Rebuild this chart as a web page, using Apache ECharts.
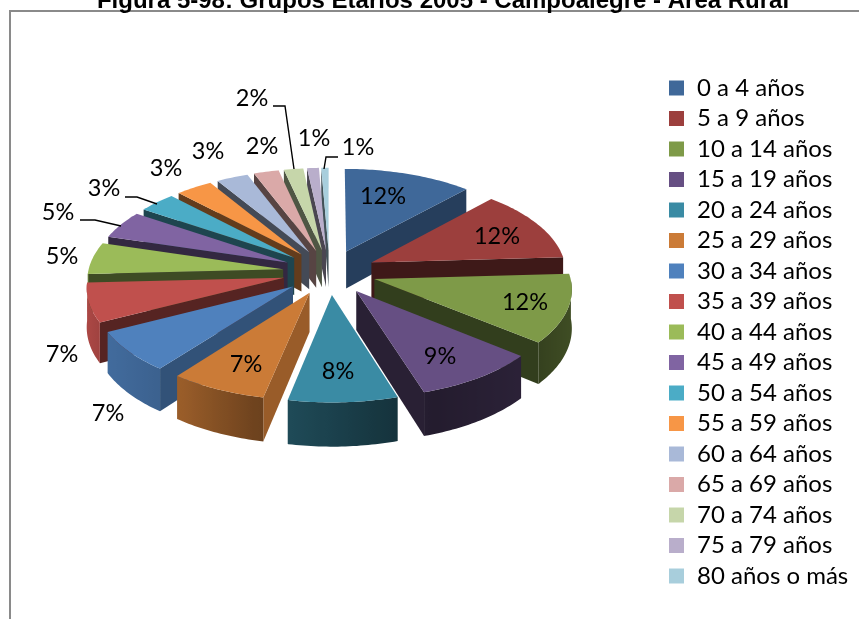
<!DOCTYPE html>
<html><head><meta charset="utf-8">
<style>html,body{margin:0;padding:0;background:#fff}#c{width:859px;height:619px}</style>
<script src="https://cdn.jsdelivr.net/npm/echarts@6/dist/echarts.min.js"></script>
</head><body><div id="c"></div>
<script>
const categories=['0 a 4 años','5 a 9 años','10 a 14 años','15 a 19 años','20 a 24 años','25 a 29 años','30 a 34 años','35 a 39 años','40 a 44 años','45 a 49 años','50 a 54 años','55 a 59 años','60 a 64 años','65 a 69 años','70 a 74 años','75 a 79 años','80 años o más'];
const values=[11.8,12.3,11.8,9.25,8.1,7.2,7.05,6.7,5.45,4.75,3.46,3.39,2.92,2.3,1.78,1.08,0.67];
const colors=['#3F6899','#9C3F3D','#7E9A48','#664F83','#3A8BA4','#CB7B37','#4F81BD','#C0504D','#9BBB59','#8064A2','#4BACC6','#F79646','#A9B9D8','#DAA9A8','#C6D6AA','#B9AECB','#A8CEDC'];
const titleText='Figura 5-98: Grupos Etarios 2005 - Campoalegre - Área Rural';

// view of the tilted disc
const view={cx:329.5,cy:272,rx:195,ry:93.5,persp:0.09,explode:0.24,depth:38,depthSlope:5};
// label anchors and leader lines, in page pixels
const labelAt=[[383,196],[497,236],[525,302],[440,356],[338,371],[246,364],[108,413],[62,354],[62,256],[58,212],[104,188],[166,168],[208,151],[262,146],[252,98],[314,138],[358,147]];
const leaders={9:[[80,220],[95,220],[121,226]],10:[[125,197],[137,197],[157,204]],14:[[273,106],[285,106],[294,169]],16:[[338,157],[326,157],[324,169]]};

const total=values.reduce((a,b)=>a+b,0);
const spans=[];let acc=0;
values.forEach(v=>{const a0=acc/total*360;acc+=v;spans.push([a0,acc/total*360]);});
const rad=d=>d*Math.PI/180;
function project(X,Y,below){
  const t=1/(1+view.persp*Y);
  return [view.cx+view.rx*X*t, view.cy-view.ry*Y*t+(below?view.depth-view.depthSlope*Y:0)];
}
function lerpTable(tab,x){
  if(x<=tab[0][0])return tab[0][1];
  for(let i=1;i<tab.length;i++){if(x<=tab[i][0]){const a=tab[i-1],b=tab[i];return a[1]+(b[1]-a[1])*(x-a[0])/(b[0]-a[0]);}}
  return tab[tab.length-1][1];
}
const radialShade=[[90,.8],[126,.65],[151,.45],[177,.4],[270,.4]];
const rimShade=[[90,.5],[130,.42],[160,.35],[195,.55],[216,.75],[240,.82],[270,.9]];
function shade(hex,f){
  const n=parseInt(hex.slice(1),16);
  return 'rgb('+[(n>>16)&255,(n>>8)&255,n&255].map(c=>Math.round(c*f)).join(',')+')';
}
function sliceItem(i){
  return function(){
    const [a0,a1]=spans[i],mid=rad((a0+a1)/2),e=view.explode;
    const ox=e*Math.sin(mid),oy=e*Math.cos(mid);
    const P=(a,r,b)=>project(ox+r*Math.sin(rad(a)),oy+r*Math.cos(rad(a)),b);
    const kids=[],col=colors[i];
    const poly=(pts,fill)=>kids.push({type:'polygon',shape:{points:pts},style:{fill:fill}});
    const n0=a0-90,n1=a1+90;
    if(Math.cos(rad(n0))<0) poly([P(0,0,false),P(a0,1,false),P(a0,1,true),P(0,0,true)],shade(col,lerpTable(radialShade,n0<0?n0+360:n0)));
    if(Math.cos(rad(n1))<0) poly([P(0,0,false),P(a1,1,false),P(a1,1,true),P(0,0,true)],shade(col,lerpTable(radialShade,n1%360)));
    // outer wall: one polygon, shaded by a gradient along the visible arc
    const angs=[];
    for(let a=a0;a<a1;a+=1){ if(Math.cos(rad(a))<0) angs.push(a); }
    if(Math.cos(rad(a1))<0) angs.push(a1);
    if(angs.length>1){
      const up=angs.map(a=>P(a,1,false)),dn=angs.map(a=>P(a,1,true)).reverse();
      const x0=up[0][0],x1=up[up.length-1][0];
      const stops=angs.map((a,j)=>({offset:j/(angs.length-1),color:shade(col,lerpTable(rimShade,a))}));
      const grad=new echarts.graphic.LinearGradient(x0,0,x1,0,stops,true);
      poly(up.concat(dn),grad);
    }
    const top=[P(0,0,false)];
    for(let a=a0;a<a1;a+=1)top.push(P(a,1,false));
    top.push(P(a1,1,false));
    poly(top,col);
    return {type:'group',children:kids};
  };
}
const depthOrder=values.map((_,i)=>i).sort((p,q)=>{
  const c=i=>Math.cos(rad((spans[i][0]+spans[i][1])/2));
  return c(q)-c(p);
});
const series=categories.map((name,i)=>({
  type:'custom',name:name,coordinateSystem:'none',silent:true,
  z:2+depthOrder.indexOf(i),
  itemStyle:{color:colors[i]},
  data:[[values[i]]],
  renderItem:sliceItem(i)
}));
series.push({
  type:'custom',name:'etiquetas',coordinateSystem:'none',silent:true,z:40,
  data:values.map(v=>[v]),
  renderItem:function(p,api){
    const i=p.dataIndex,kids=[{type:'text',x:labelAt[i][0],y:labelAt[i][1],style:{text:Math.round(api.value(0))+'%',fill:'#000',font:'23.5px Lato',textAlign:'center',textVerticalAlign:'middle'}}];
    if(leaders[i])kids.push({type:'polyline',shape:{points:leaders[i]},style:{fill:null,stroke:'#000',lineWidth:1.4}});
    return {type:'group',children:kids};
  }
});
const chart=echarts.init(document.getElementById('c'),null,{renderer:'canvas'});
chart.setOption({
  animation:false,
  title:{text:titleText,left:438,textAlign:'center',top:-16,textStyle:{fontFamily:'Liberation Sans',fontWeight:'bold',fontSize:24,color:'#000'}},
  legend:{data:categories,orient:'vertical',left:664,top:69.5,icon:'rect',itemWidth:15,itemHeight:15,itemGap:3.5,selectedMode:false,
    textStyle:{fontFamily:'Lato',fontSize:24,color:'#000',padding:[0,0,0,8],lineHeight:27}},
  graphic:[{type:'polyline',shape:{points:[[10,625],[10,11],[865,11]]},style:{fill:null,stroke:'#8a8a8a',lineWidth:2}}],
  series:series
});
</script></body></html>
